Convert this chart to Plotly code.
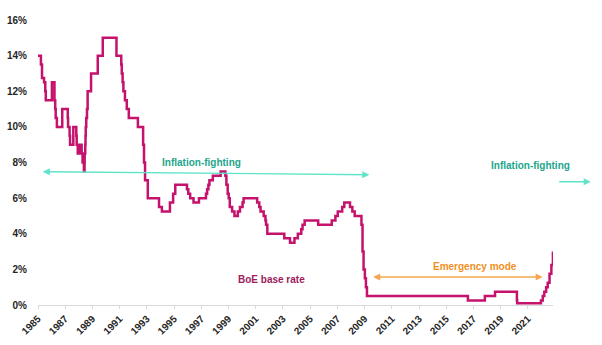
import plotly.graph_objects as go

# Bank of England base rate: dates of change and new rate (%)
change_dates = [
    "1985-01-01", "1985-03-20", "1985-04-19", "1985-06-12", "1985-07-15", "1985-07-29",
    "1986-01-09", "1986-03-19", "1986-04-08", "1986-04-21", "1986-05-23", "1986-10-14",
    "1987-03-10", "1987-03-19", "1987-04-29", "1987-05-11", "1987-08-07", "1987-10-26",
    "1987-11-05", "1987-12-04", "1988-02-02", "1988-03-17", "1988-04-11", "1988-05-17",
    "1988-06-03", "1988-06-06", "1988-06-22", "1988-06-29", "1988-07-05", "1988-07-19",
    "1988-08-08", "1988-08-25", "1988-11-25", "1989-05-24", "1989-10-05", "1990-10-08",
    "1991-02-13", "1991-02-27", "1991-03-22", "1991-04-12", "1991-05-24", "1991-07-12",
    "1991-09-04", "1992-05-05", "1992-09-22", "1992-10-16", "1992-11-13", "1993-01-26",
    "1993-11-23", "1994-02-08", "1994-09-12", "1994-12-07", "1995-02-02", "1995-12-13",
    "1996-01-18", "1996-03-08", "1996-06-06", "1996-10-30", "1997-05-06", "1997-06-06",
    "1997-07-10", "1997-08-07", "1997-11-06", "1998-06-04", "1998-10-08", "1998-11-05",
    "1998-12-10", "1999-01-07", "1999-02-04", "1999-04-08", "1999-06-10", "1999-09-08",
    "1999-11-04", "2000-01-13", "2000-02-10", "2001-02-08", "2001-04-05", "2001-05-10",
    "2001-08-02", "2001-09-18", "2001-10-04", "2001-11-08", "2003-02-06", "2003-07-10",
    "2003-11-06", "2004-02-05", "2004-05-06", "2004-06-10", "2004-08-05", "2005-08-04",
    "2006-08-03", "2006-11-09", "2007-01-11", "2007-05-10", "2007-07-05", "2007-12-06",
    "2008-02-07", "2008-04-10", "2008-10-08", "2008-11-06", "2008-12-04", "2009-01-08",
    "2009-02-05", "2009-03-05", "2016-08-04", "2017-11-02", "2018-08-02", "2020-03-11",
    "2020-03-19", "2021-12-16", "2022-02-03", "2022-03-17", "2022-05-05", "2022-06-16",
    "2022-08-04", "2022-09-22", "2022-11-03",
]
rates = [
    14.0, 13.5, 12.75, 12.5, 12.0, 11.5,
    12.5, 11.5, 11.0, 10.5, 10.0, 11.0,
    10.5, 10.0, 9.5, 9.0, 10.0, 9.5,
    9.0, 8.5, 9.0, 8.5, 8.0, 7.5,
    8.0, 8.5, 9.0, 9.5, 10.0, 10.5,
    11.0, 12.0, 13.0, 14.0, 15.0, 14.0,
    13.5, 13.0, 12.5, 12.0, 11.5, 11.0,
    10.5, 10.0, 9.0, 8.0, 7.0, 6.0,
    5.5, 5.25, 5.75, 6.25, 6.75, 6.5,
    6.25, 6.0, 5.75, 6.0, 6.25, 6.5,
    6.75, 7.0, 7.25, 7.5, 7.25, 6.75,
    6.25, 6.0, 5.5, 5.25, 5.0, 5.25,
    5.5, 5.75, 6.0, 5.75, 5.5, 5.25,
    5.0, 4.75, 4.5, 4.0, 3.75, 3.5,
    3.75, 4.0, 4.25, 4.5, 4.75, 4.5,
    4.75, 5.0, 5.25, 5.5, 5.75, 5.5,
    5.25, 5.0, 4.5, 3.0, 2.0, 1.5,
    1.0, 0.5, 0.25, 0.5, 0.75, 0.25,
    0.1, 0.25, 0.5, 0.75, 1.0, 1.25,
    1.75, 2.25, 3.0,
]

tick_years = list(range(1985, 2022, 2))
tick_vals = [f"{y}-01-01" for y in tick_years]
tick_text = [str(y) for y in tick_years]

FONT = "Liberation Sans, Arial, sans-serif"
LINE_COLOR = "#C4126D"
TEAL_TEXT = "#22A68B"
TEAL_ARROW = "#5FE3C9"
ORANGE_TEXT = "#F0901E"
ORANGE_ARROW = "#F6A650"

fig = go.Figure()
fig.add_trace(go.Scatter(
    x=change_dates, y=rates, mode="lines", line_shape="hv",
    line=dict(color=LINE_COLOR, width=2.5), showlegend=False, hoverinfo="skip",
))

fig.update_layout(
    width=602, height=345,
    margin=dict(l=38, r=49, t=20, b=40, autoexpand=False),
    paper_bgcolor="white", plot_bgcolor="white",
    font=dict(family=FONT, size=10, color="#262626"),
    xaxis=dict(
        type="date", range=["1985-01-01", "2022-11-05"], automargin=False,
        tickmode="array", tickvals=tick_vals, ticktext=tick_text,
        tickangle=-45, tickfont=dict(family=FONT, size=10, color="#262626", weight="bold"),
        showgrid=False, zeroline=False, showline=True, linecolor="#D9D9D9", linewidth=1,
        ticks="outside", ticklen=3, tickcolor="#D9D9D9",
    ),
    yaxis=dict(
        range=[0, 16], dtick=2, ticksuffix="%", automargin=False,
        tickfont=dict(family=FONT, size=10, color="#262626", weight="bold"),
        showgrid=False, zeroline=False, showline=False,
        ticks="outside", ticklen=8, tickcolor="rgba(0,0,0,0)",
    ),
)

def txt(text, x, y, color):
    fig.add_annotation(text=text, x=x, y=y, xref="paper", yref="paper",
                       showarrow=False, xanchor="center", yanchor="middle",
                       font=dict(family=FONT, size=10, color=color, weight="bold"))

def arrow(x, y, ax, ay, color, both):
    fig.add_annotation(text="", x=x, y=y, xref="paper", yref="paper",
                       ax=ax, ay=ay, axref="pixel", ayref="pixel",
                       showarrow=True, arrowhead=2, startarrowhead=2,
                       arrowside="end+start" if both else "end",
                       arrowsize=1, startarrowsize=1, arrowwidth=1.4, arrowcolor=color)

txt("Inflation-fighting", 0.318, 0.499, TEAL_TEXT)
txt("Inflation-fighting", 0.957, 0.491, TEAL_TEXT)
txt("Emergency mode", 0.8485, 0.134, ORANGE_TEXT)
txt("BoE base rate", 0.4538, 0.091, "#9C1C5C")

arrow(0.6433, 0.4572, -328, -3, TEAL_ARROW, True)
arrow(1.0732, 0.4326, -33, 0, TEAL_ARROW, False)
arrow(0.98, 0.0982, -171, 0, ORANGE_ARROW, True)

fig.write_html("out.html")
